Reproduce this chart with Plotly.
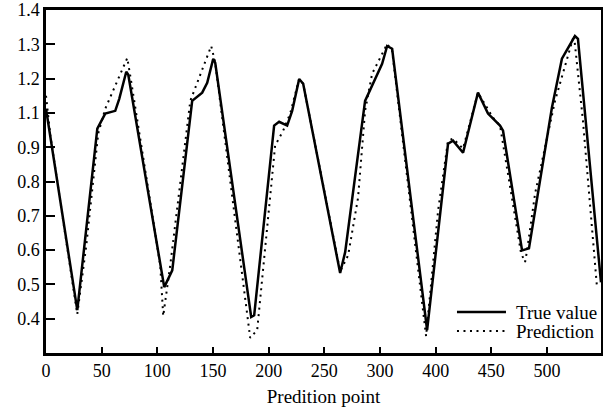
import plotly.graph_objects as go

# Axis coordinates as drawn (evenly spaced ticks; labels as printed on the reference)
x_tick_vals = [0, 50, 100, 150, 200, 250, 300, 350, 400, 450]
x_tick_text = ["0", "50", "100", "150", "200", "250", "300", "400", "450", "500"]
y_tick_vals = [0.4, 0.5, 0.6, 0.7, 0.8, 0.9, 1.0, 1.1, 1.2, 1.3]
y_tick_text = ["0.4", "0.5", "0.6", "0.7", "0.8", "0.9", "1.1", "1.2", "1.3", "1.4"]

true_x = [0, 28.1, 46.1, 53.2, 62.2, 65.8, 72.1, 73.9, 106.2, 113.4, 131.3, 140.3,
          144.8, 150.2, 152.0, 184.3, 187.0, 204.9, 209.4, 216.6, 221.1, 227.4,
          231.0, 264.2, 268.7, 286.6, 301.9, 306.4, 310.9, 342.3, 361.1, 365.6,
          374.6, 388.0, 397.0, 407.8, 410.5, 427.6, 433.8, 454.4, 463.4, 475.1,
          477.8, 498.5]
true_y = [1.012, 0.425, 0.954, 0.998, 1.006, 1.041, 1.120, 1.111, 0.492, 0.541,
          1.035, 1.059, 1.088, 1.158, 1.146, 0.405, 0.410, 0.963, 0.974, 0.963,
          1.006, 1.099, 1.085, 0.533, 0.594, 1.035, 1.143, 1.195, 1.187, 0.367,
          0.910, 0.919, 0.884, 1.059, 0.998, 0.963, 0.948, 0.599, 0.605, 1.015,
          1.158, 1.224, 1.216, 0.506]

pred_x = [0, 3.9, 28.1, 36.2, 46.9, 53.2, 73.0, 75.7, 102.6, 105.3, 111.6, 129.6,
          148.4, 152.0, 183.4, 189.7, 205.8, 213.0, 219.3, 227.4, 231.0, 264.2,
          271.4, 280.3, 286.6, 292.9, 306.4, 310.9, 341.4, 352.2, 361.1, 365.6,
          374.6, 388.0, 401.5, 407.8, 426.7, 430.3, 432.1, 439.3, 457.2, 474.2,
          482.3, 494.9]
pred_y = [1.050, 0.934, 0.413, 0.614, 0.940, 1.012, 1.160, 1.108, 0.556, 0.408,
          0.556, 1.035, 1.195, 1.146, 0.344, 0.367, 0.905, 0.948, 0.998, 1.099,
          1.085, 0.538, 0.585, 0.753, 1.006, 1.114, 1.201, 1.181, 0.349, 0.716,
          0.919, 0.925, 0.896, 1.059, 0.986, 0.963, 0.591, 0.565, 0.599, 0.765,
          1.035, 1.227, 0.977, 0.492]

series_names = ["True value", "Prediction"]

FONT = "Liberation Serif"
DOT = "2px,4.5px"

fig = go.Figure()
fig.add_trace(go.Scatter(x=true_x, y=true_y, mode="lines", name=series_names[0],
                         line=dict(color="black", width=2.5), showlegend=False))
fig.add_trace(go.Scatter(x=pred_x, y=pred_y, mode="lines", name=series_names[1],
                         line=dict(color="black", width=2, dash=DOT), showlegend=False))

# Legend drawn as keys + labels in the lower-right corner of the plot area
legend_rows = [(0.1195, dict(color="black", width=2.5)),
               (0.0641, dict(color="black", width=2, dash=DOT))]
for name, (yp, ln) in zip(series_names, legend_rows):
    fig.add_shape(type="line", xref="paper", yref="paper",
                  x0=0.7405, x1=0.8288, y0=yp, y1=yp, line=ln)
    fig.add_annotation(xref="paper", yref="paper", x=0.8432, y=yp,
                       xanchor="left", yanchor="middle", text=name,
                       showarrow=False, font=dict(family=FONT, size=19, color="black"))

fig.update_layout(
    width=603, height=408,
    margin=dict(l=46, r=2, t=10, b=55, autoexpand=False),
    paper_bgcolor="white", plot_bgcolor="white",
    font=dict(family=FONT, size=18, color="black"),
    showlegend=False,
)
fig.update_xaxes(
    range=[0, 498.5], autorange=False, automargin=False,
    tickmode="array", tickvals=x_tick_vals, ticktext=x_tick_text,
    ticks="inside", ticklen=6, tickwidth=2, tickcolor="black",
    showline=True, linewidth=2.5, linecolor="black", mirror=True,
    showgrid=False, zeroline=False,
    tickfont=dict(family=FONT, size=18),
    title=dict(text="Predition point", font=dict(family=FONT, size=19), standoff=10),
)
fig.update_yaxes(
    range=[0.3, 1.3], autorange=False, automargin=False,
    tickmode="array", tickvals=y_tick_vals, ticktext=y_tick_text,
    ticks="inside", ticklen=9, tickwidth=2, tickcolor="black",
    showline=True, linewidth=2.5, linecolor="black", mirror=True,
    showgrid=False, zeroline=False,
    tickfont=dict(family=FONT, size=18),
)

fig.write_html("out.html", config={"displayModeBar": False},
               post_script="document.body.style.margin='0px';")
